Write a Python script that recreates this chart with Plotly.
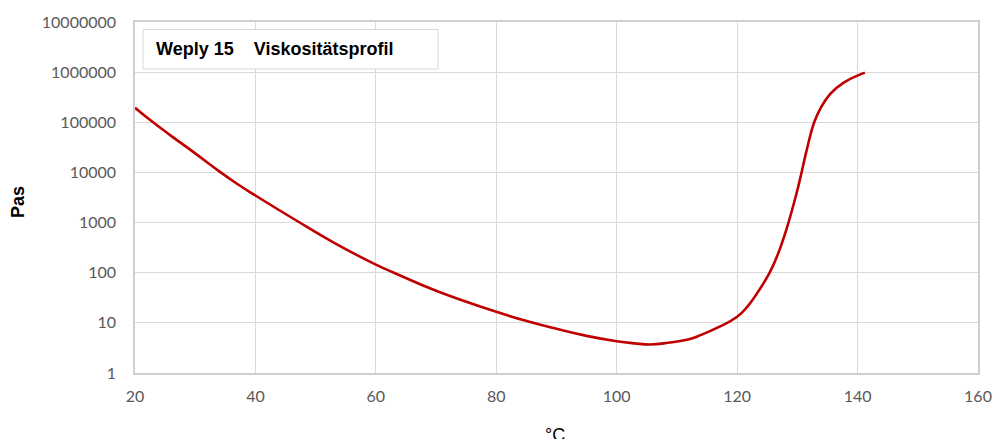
import plotly.graph_objects as go

# Temperature (°C) and viscosity (Pa·s)
temperature = [20, 23, 26, 30, 34, 37, 40, 46.8, 53, 60, 63, 70, 80, 85.5, 90, 95,
               100, 103, 105.5, 108.5, 112, 114, 117, 120, 121.75, 123.6, 125.4,
               126.8, 128.2, 129.9, 130.7, 131.6, 132.8, 133.8, 135.5, 137.7, 141.2]
viscosity = [195000, 100000, 53700, 24000, 10500, 5890, 3470, 1100, 400, 145, 100,
             43.7, 16.6, 10.5, 7.6, 5.5, 4.3, 3.9, 3.7, 4.0, 4.7, 5.75, 8.3, 13.2,
             21.4, 44, 100, 240, 741, 3980, 10000, 29500, 100000, 186000, 372000,
             617000, 977000]

x_ticks = [20, 40, 60, 80, 100, 120, 140, 160]
y_ticks = [1, 10, 100, 1000, 10000, 100000, 1000000, 10000000]
y_ticktext = [str(v) for v in y_ticks]

title_text = "Weply 15\u00a0\u00a0\u00a0\u00a0Viskositätsprofil"
y_title = "Pas"
x_title = "°C"

fig = go.Figure()
fig.add_trace(go.Scatter(
    x=temperature, y=viscosity, mode="lines",
    line=dict(color="#c00000", width=2.6, shape="spline", smoothing=1.3),
    hoverinfo="skip", showlegend=False,
))

grid = "#d9d9d9"
tickfont = dict(family="Lato, Open Sans, sans-serif", size=16, color="#595959")

fig.update_layout(
    width=994, height=439, autosize=False,
    margin=dict(l=135, r=16, t=22, b=66, autoexpand=False),
    paper_bgcolor="white", plot_bgcolor="white",
    xaxis=dict(range=[20, 160], tickvals=x_ticks, showgrid=True, gridcolor=grid,
               gridwidth=1, zeroline=False, showline=True, linecolor="#cfcfcf",
               linewidth=1.5, mirror=True, tickfont=tickfont, ticks="",
               ticklabelstandoff=8, automargin=False),
    yaxis=dict(type="log", range=[0, 7], tickvals=y_ticks, ticktext=y_ticktext,
               showgrid=True, gridcolor=grid, gridwidth=1, zeroline=False,
               showline=True, linecolor="#cfcfcf", linewidth=1.5, mirror=True,
               tickfont=tickfont, ticks="", ticklabelstandoff=14, automargin=False),
)

# Title box
fig.add_shape(type="rect", xref="paper", yref="paper",
              x0=(143 - 135) / 843, x1=(438 - 135) / 843,
              y0=(373 - 69) / 351, y1=(373 - 29.5) / 351,
              line=dict(color="#d9d9d9", width=1), fillcolor="white", layer="above")
fig.add_annotation(text=title_text, xref="paper", yref="paper",
                   x=(154 - 135) / 843, y=(373 - 49.5) / 351,
                   xanchor="left", yanchor="middle", showarrow=False,
                   font=dict(family="Liberation Sans, Arial, sans-serif", size=18,
                             color="black", weight="bold"))
# Axis titles
fig.add_annotation(text=y_title, xref="paper", yref="paper",
                   x=(18 - 135) / 843, y=(373 - 202) / 351, textangle=-90,
                   xanchor="center", yanchor="middle", showarrow=False,
                   font=dict(family="Liberation Sans, Arial, sans-serif", size=18,
                             color="black", weight="bold"))
fig.add_annotation(text=x_title, xref="paper", yref="paper",
                   x=(555 - 135) / 843, y=(373 - 423) / 351,
                   xanchor="center", yanchor="top", showarrow=False,
                   font=dict(family="Liberation Sans, Arial, sans-serif", size=18,
                             color="black"))

fig.write_html("out.html", config={"displayModeBar": False},
               post_script="document.body.style.margin='0';document.body.style.overflow='hidden';")
